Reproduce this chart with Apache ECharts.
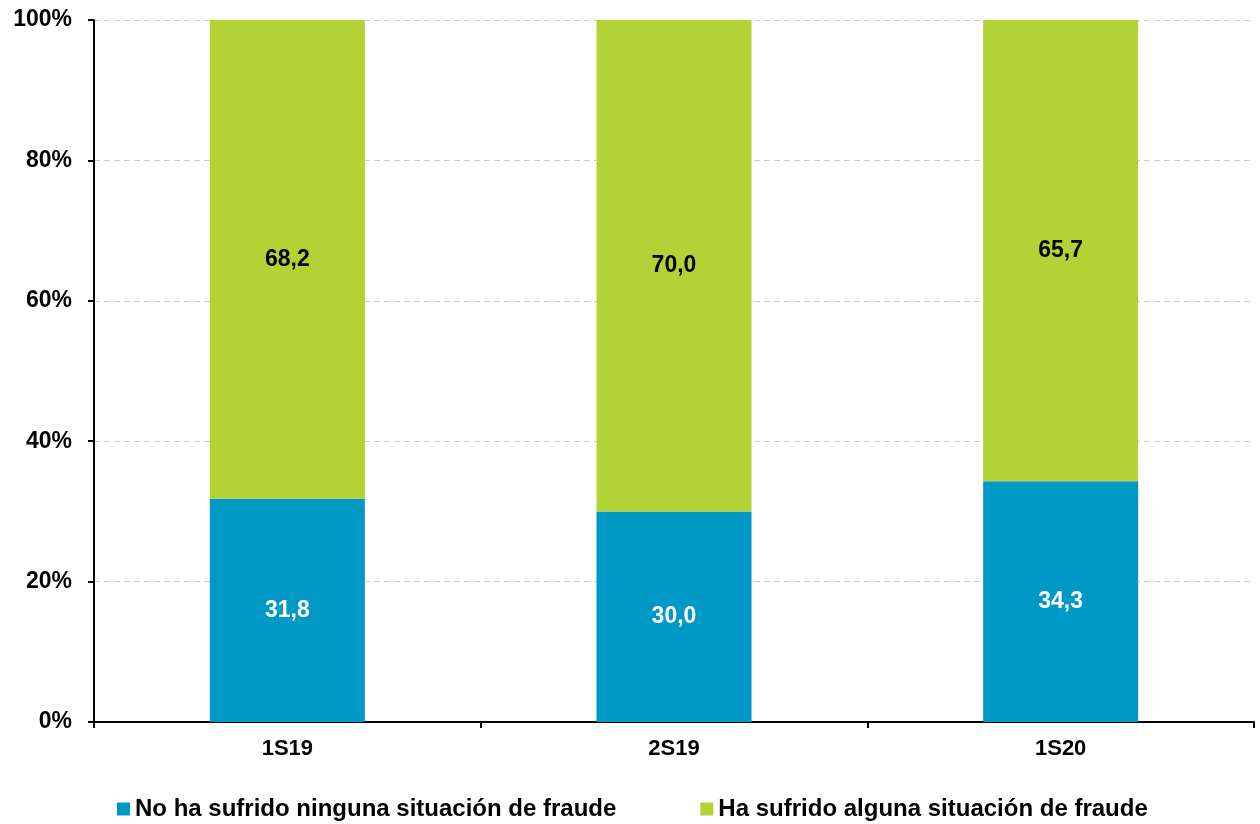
<!DOCTYPE html>
<html>
<head>
<meta charset="utf-8">
<script src="https://cdn.jsdelivr.net/npm/echarts@6/dist/echarts.min.js"></script>
<style>
  html, body { margin: 0; padding: 0; background: #fff; }
  #chart { width: 1260px; height: 824px; }
</style>
</head>
<body>
<div id="chart"></div>
<script>
const categories = ['1S19', '2S19', '1S20']
const noFraude = [31.8, 30.0, 34.3]
const siFraude = [68.2, 70.0, 65.7]
const seriesNames = ['No ha sufrido ninguna situación de fraude', 'Ha sufrido alguna situación de fraude']

const chart = echarts.init(document.getElementById('chart'))
const font = 'Arial, "Liberation Sans", sans-serif'
const fmt = p => p.value.toFixed(1).replace('.', ',')

chart.setOption({
  animation: false,
  textStyle: { fontFamily: font },
  grid: { left: 94, right: 6, top: 20, bottom: 102 },
  legend: {
    data: seriesNames,
    left: 112,
    top: 792,
    itemWidth: 13,
    itemHeight: 13,
    itemGap: 84,
    icon: 'rect',
    textStyle: { fontFamily: font, fontWeight: 'bold', fontSize: 24, color: '#000' },
  },
  xAxis: {
    type: 'category',
    data: categories,
    axisLine: { lineStyle: { color: '#000', width: 2 } },
    axisTick: { show: true, length: 6, lineStyle: { color: '#000', width: 2 } },
    axisLabel: { color: '#000', fontWeight: 'bold', fontSize: 22, margin: 16 },
  },
  yAxis: {
    type: 'value',
    min: 0,
    max: 100,
    interval: 20,
    axisLine: { show: true, lineStyle: { color: '#000', width: 2 } },
    axisTick: { show: true, length: 6, lineStyle: { color: '#000', width: 2 } },
    axisLabel: { color: '#000', fontWeight: 'bold', fontSize: 23, margin: 22, formatter: '{value}%' },
    splitLine: { lineStyle: { color: '#cfcfcf', type: [6, 4] } },
  },
  series: [
    {
      name: seriesNames[0],
      type: 'bar',
      stack: 'total',
      barWidth: 155,
      data: noFraude,
      itemStyle: { color: '#0099C5' },
      label: { show: true, position: 'inside', color: '#fff', fontWeight: 'bold', fontSize: 23, formatter: fmt },
    },
    {
      name: seriesNames[1],
      type: 'bar',
      stack: 'total',
      barWidth: 155,
      data: siFraude,
      itemStyle: { color: '#B3D236' },
      label: { show: true, position: 'inside', color: '#000', fontWeight: 'bold', fontSize: 23, formatter: fmt },
    },
  ],
})
</script>
</body>
</html>
